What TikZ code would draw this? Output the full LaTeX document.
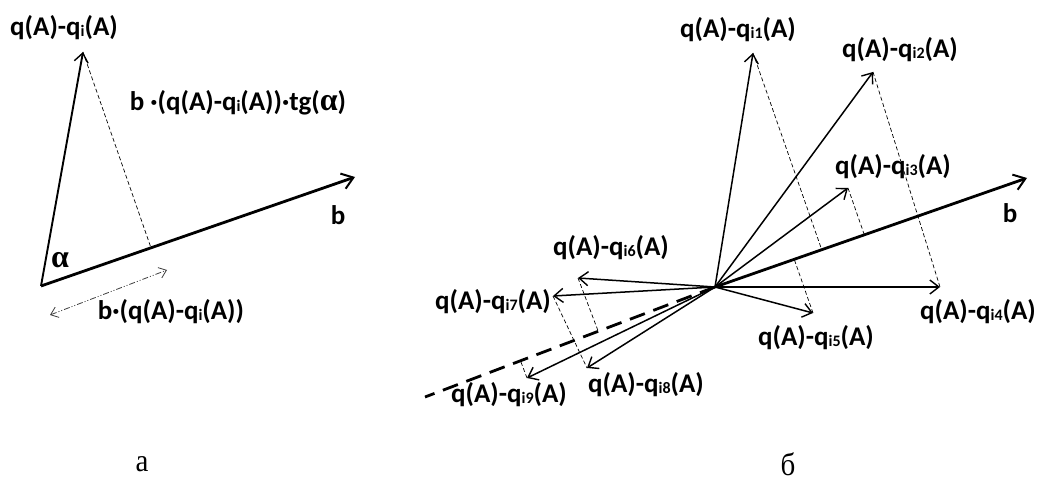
\documentclass[tikz,border=0pt]{standalone}
\usepackage{amsmath,amssymb}
\usepackage{fontspec}
\usepackage{tikz}
\usetikzlibrary{arrows.meta,calc}
\setmainfont{Carlito}
\newfontfamily\capfont{Liberation Serif}
\definecolor{ink}{HTML}{000000}
\definecolor{inkgray}{HTML}{404040}
\newcommand{\ix}[1]{\raisebox{-1pt}{\fontsize{16}{16}\selectfont #1}}
\newcommand{\qdiff}[1]{q(A)-q\ix{#1}(A)}
\newcommand{\alf}{{\capfont\bfseries\fontsize{32}{32}\selectfont α}}
\tikzset{
  vec/.style={-{Straight Barb[length=9pt,width=14pt,line width=1.4pt]},line width=1.5pt,color=ink},
  bvec/.style={-{Straight Barb[length=11pt,width=16pt,line width=2pt]},line width=2.8pt,color=ink},
  projline/.style={dash pattern=on 4pt off 2.5pt,line width=0.7pt,color=ink},
  measline/.style={{Straight Barb[length=7pt,width=11pt]}-{Straight Barb[length=7pt,width=11pt]},
                   dash pattern=on 6pt off 2pt on 1pt off 2pt on 1pt off 2pt,line width=0.8pt,color=inkgray},
  lbl/.style={font=\fontsize{27}{27}\selectfont\bfseries,inner sep=0pt,text=ink},
  caption/.style={font=\capfont\fontsize{29}{29}\selectfont,inner sep=0pt,yscale=1.1}
}

\begin{document}
\begin{tikzpicture}[x=1pt,y=-1pt]
  \useasboundingbox (0,0) rectangle (1037,481);
  % (a) one vector and its projection
  \coordinate (O) at (41,286);
  \coordinate (qa) at (83,52);
  \coordinate (ba) at (355,177);
  \coordinate (fa) at ($(O)!(qa)!(ba)$);
  \coordinate (ma) at (50,315);
  \coordinate (mb) at (167,270);
  \draw[vec,line width=1.9pt] (O) -- (qa);
  \draw[bvec] (O) -- (ba);
  \draw[projline] (qa) -- (fa);
  \draw[measline] (ma) -- (mb);
  \node[lbl] (qalbl) at (64,28) {\qdiff{i}};
  \node[lbl] (tglbl) at (238,103) {b ·(\qdiff{i})·tg(\alf)};
  \node[lbl] (balbl) at (338,215) {b};
  \node[lbl] (alpha) at (60,260) {\alf};
  \node[lbl] (prlbl) at (171,312) {b·(\qdiff{i})};
  \node[caption] (capa) at (142,464) {а};

  % (b) many vectors from one point
  \coordinate (C) at (715,287);
  \coordinate (bt) at (1027,178);
  \coordinate (bn) at (425,397);
  \coordinate (t1) at (753,53);
  \coordinate (t2) at (873,72);
  \coordinate (t3) at (848,188);
  \coordinate (t4) at (940,287);
  \coordinate (t5) at (813,313);
  \coordinate (t6) at (578,278);
  \coordinate (t7) at (553,296);
  \coordinate (t8) at (587,368);
  \coordinate (t9) at (527,378);
  \draw[projline] (t1) -- ($(C)!(t1)!(bt)$);
  \draw[projline] (t2) -- (t4);
  \draw[projline] (t3) -- ($(C)!(t3)!(bt)$);
  \draw[projline] (t5) -- ($(C)!(t5)!(bt)$);
  \draw[projline] (t6) -- ($(C)!(t6)!(bn)$);
  \draw[projline] (t7) -- (t8);
  \draw[projline] (t9) -- ($(C)!(t9)!(bn)$);
  \draw[line width=2.8pt,dash pattern=on 16pt off 9pt] (C) -- (bn);
  \foreach \t in {t1,t2,t3,t4,t5,t6,t7,t8,t9}
    \draw[vec] (C) -- (\t);
  \draw[bvec] (C) -- (bt);
  \node[lbl] (q1lbl) at (738,30) {\qdiff{i1}};
  \node[lbl] (q2lbl) at (900,50) {\qdiff{i2}};
  \node[lbl] (q3lbl) at (893,167) {\qdiff{i3}};
  \node[lbl] (bblbl) at (1010,213) {b};
  \node[lbl] (q4lbl) at (978,312) {\qdiff{i4}};
  \node[lbl] (q5lbl) at (816,338) {\qdiff{i5}};
  \node[lbl] (q6lbl) at (611,248) {\qdiff{i6}};
  \node[lbl] (q7lbl) at (493,302) {\qdiff{i7}};
  \node[lbl] (q8lbl) at (646,385) {\qdiff{i8}};
  \node[lbl] (q9lbl) at (509,395) {\qdiff{i9}};
  \node[caption] (capb) at (788,464) {б};
\end{tikzpicture}
\end{document}
